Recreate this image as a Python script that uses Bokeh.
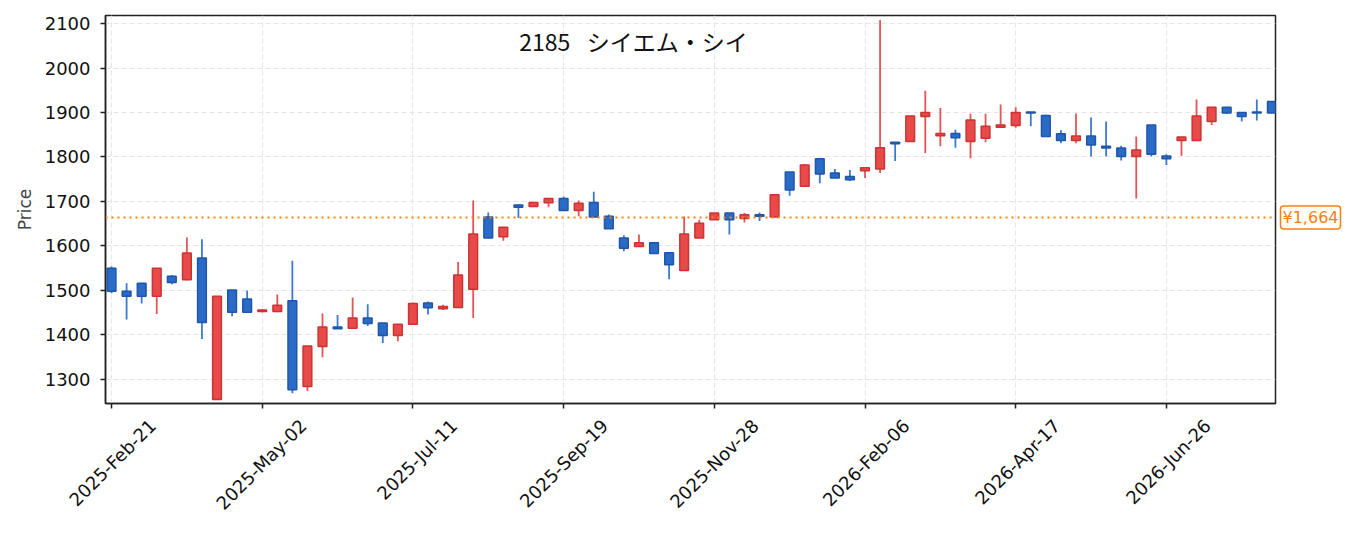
import math
from bokeh.plotting import figure
from bokeh.models import Range1d, FixedTicker, Span, Label, ColumnDataSource, LinearAxis
from bokeh.embed import file_html
from bokeh.resources import INLINE

# Weekly OHLC
opens = [1550, 1498, 1516, 1487, 1532, 1524, 1573, 1255, 1501, 1481,
         1453, 1453, 1477, 1284, 1374, 1418, 1415, 1438, 1427, 1399,
         1424, 1472, 1459, 1462, 1503, 1665, 1621, 1692, 1689, 1697,
         1707, 1680, 1698, 1667, 1618, 1599, 1607, 1585, 1545, 1618,
         1659, 1674, 1662, 1670, 1665, 1766, 1734, 1796, 1764, 1756,
         1769, 1773, 1833, 1835, 1891, 1848, 1853, 1835, 1842, 1867,
         1871, 1901, 1893, 1852, 1837, 1847, 1824, 1820, 1801, 1872,
         1802, 1837, 1837, 1880, 1912, 1900, 1901, 1925]
highs = [1554, 1516, 1516, 1550, 1535, 1619, 1615, 1487, 1501, 1500,
         1457, 1491, 1567, 1375, 1448, 1445, 1484, 1469, 1427, 1424,
         1473, 1475, 1468, 1564, 1702, 1675, 1642, 1693, 1698, 1707,
         1711, 1702, 1722, 1671, 1624, 1626, 1607, 1585, 1666, 1659,
         1674, 1674, 1674, 1675, 1715, 1766, 1784, 1796, 1773, 1771,
         1776, 2108, 1833, 1892, 1949, 1910, 1861, 1897, 1897, 1918,
         1912, 1901, 1895, 1860, 1898, 1889, 1880, 1825, 1846, 1872,
         1806, 1845, 1929, 1912, 1912, 1900, 1929, 1925]
lows = [1494, 1435, 1471, 1447, 1514, 1523, 1391, 1255, 1442, 1451,
        1451, 1451, 1269, 1274, 1350, 1414, 1415, 1420, 1382, 1386,
        1424, 1446, 1456, 1462, 1438, 1618, 1612, 1663, 1688, 1687,
        1680, 1667, 1665, 1639, 1588, 1599, 1583, 1525, 1545, 1618,
        1659, 1626, 1653, 1656, 1665, 1713, 1733, 1741, 1753, 1746,
        1753, 1764, 1791, 1835, 1809, 1824, 1821, 1797, 1833, 1867,
        1866, 1869, 1846, 1831, 1831, 1801, 1801, 1792, 1707, 1801,
        1782, 1803, 1837, 1872, 1897, 1880, 1882, 1899]
closes = [1498, 1487, 1487, 1550, 1518, 1584, 1428, 1487, 1451, 1451,
          1456, 1467, 1277, 1375, 1418, 1414, 1438, 1426, 1399, 1424,
          1471, 1461, 1464, 1535, 1627, 1618, 1642, 1687, 1698, 1707,
          1680, 1696, 1665, 1639, 1595, 1607, 1583, 1558, 1627, 1651,
          1674, 1659, 1670, 1667, 1715, 1726, 1782, 1762, 1753, 1749,
          1776, 1821, 1830, 1892, 1900, 1853, 1843, 1883, 1869, 1872,
          1900, 1899, 1846, 1837, 1847, 1827, 1820, 1801, 1816, 1806,
          1796, 1845, 1892, 1912, 1899, 1891, 1899, 1899]

tick_positions = [0, 10, 20, 30, 40, 50, 60, 70]
tick_labels = ["2025-Feb-21", "2025-May-02", "2025-Jul-11", "2025-Sep-19",
               "2025-Nov-28", "2026-Feb-06", "2026-Apr-17", "2026-Jun-26"]
y_ticks = [1300, 1400, 1500, 1600, 1700, 1800, 1900, 2000, 2100]
ref_price = 1664
title_text = "2185 \u2002シイエム・シイ"

RED_FILL, RED_EDGE, RED_WICK = "#e84a4a", "#cc3333", "#e65454"
BLUE_FILL, BLUE_EDGE, BLUE_WICK = "#2a6bc8", "#1f56a8", "#3a7bd0"
ORANGE = "#ff7f0e"

idx = list(range(len(opens)))
up = [c > o for o, c in zip(opens, closes)]
src = ColumnDataSource(dict(
    x=idx, open=opens, high=highs, low=lows, close=closes,
    top=[max(o, c) for o, c in zip(opens, closes)],
    bottom=[min(o, c) for o, c in zip(opens, closes)],
    fill=[RED_FILL if u else BLUE_FILL for u in up],
    edge=[RED_EDGE if u else BLUE_EDGE for u in up],
    wick=[RED_WICK if u else BLUE_WICK for u in up],
))

JP_FONT = "Noto Sans CJK JP"
TICK_FONT = "DejaVu Sans"

p = figure(width=1350, height=525, output_backend="svg", toolbar_location=None,
           x_range=Range1d(-0.4, 77.24), y_range=Range1d(1246, 2118),
           min_border_left=105, min_border_right=75, min_border_top=15,
           min_border_bottom=122)
p.background_fill_color = "white"
p.border_fill_color = "white"
p.outline_line_color = "#222222"
p.outline_line_width = 1.5

p.xgrid.grid_line_color = "#e6e6e6"
p.ygrid.grid_line_color = "#e6e6e6"
p.xgrid.grid_line_dash = "5 3"
p.ygrid.grid_line_dash = "5 3"
p.xgrid.grid_line_width = 1.2
p.ygrid.grid_line_width = 1.2

p.xaxis.ticker = FixedTicker(ticks=tick_positions)
p.yaxis.ticker = FixedTicker(ticks=y_ticks)
for ax in (p.xaxis, p.yaxis):
    ax.major_label_text_font = TICK_FONT
    ax.major_label_text_font_size = "18px"
    ax.major_label_text_color = "#111111"
    ax.axis_line_color = "#222222"
    ax.axis_line_width = 1.5
    ax.major_tick_line_color = "#222222"
    ax.major_tick_line_width = 1.5
    ax.major_tick_out = 5
    ax.major_tick_in = 0
    ax.minor_tick_line_color = None
p.yaxis.major_label_standoff = 10
p.yaxis.axis_label = "Price"
p.yaxis.axis_label_text_font = TICK_FONT
p.yaxis.axis_label_text_font_style = "normal"
p.yaxis.axis_label_text_font_size = "17px"
p.yaxis.axis_label_standoff = 7

# main x axis: tick marks only; the rotated date labels sit on a second,
# label-only axis whose anchors are offset so each label is centred under its tick
p.xaxis.major_label_text_font_size = "0px"
p.xaxis.major_label_text_color = None
p.xaxis.major_label_standoff = 0
label_shift = 2.73
label_positions = [t + label_shift for t in tick_positions]
lax = LinearAxis(ticker=FixedTicker(ticks=label_positions),
                 major_label_overrides={t: l for t, l in zip(label_positions, tick_labels)},
                 major_label_orientation=math.pi / 4)
lax.axis_line_color = None
lax.major_tick_line_color = None
lax.minor_tick_line_color = None
lax.major_tick_out = 0
lax.major_tick_in = 0
lax.major_label_standoff = 14
lax.major_label_text_font = TICK_FONT
lax.major_label_text_font_size = "18px"
lax.major_label_text_color = "#111111"
p.add_layout(lax, "below")

p.segment(x0="x", y0="high", x1="x", y1="low", source=src,
          line_color="wick", line_width=1.8)
p.vbar(x="x", top="top", bottom="bottom", width=0.58, source=src,
       fill_color="fill", line_color="edge", line_width=1.5)

p.add_layout(Span(location=ref_price, dimension="width", line_color=ORANGE,
                  line_dash="2 4", line_width=2))

p.add_layout(Label(x=528, y=363, x_units="screen", y_units="screen",
                   text=title_text, text_font=JP_FONT, text_font_size="23px",
                   text_align="center", text_baseline="middle",
                   text_color="#111111"))

# price tag in the right side panel (not clipped to the frame)
p.add_layout(Label(x=5, y=ref_price, x_units="screen", y_units="data",
                   text="¥{:,}".format(ref_price), text_font=TICK_FONT,
                   text_font_size="16px", text_color=ORANGE,
                   text_align="left", text_baseline="middle",
                   background_fill_color="white",
                   border_line_color=ORANGE, border_line_width=1.5,
                   padding=2, border_radius=3), "right")

open("out.html", "w").write(file_html(p, INLINE))
